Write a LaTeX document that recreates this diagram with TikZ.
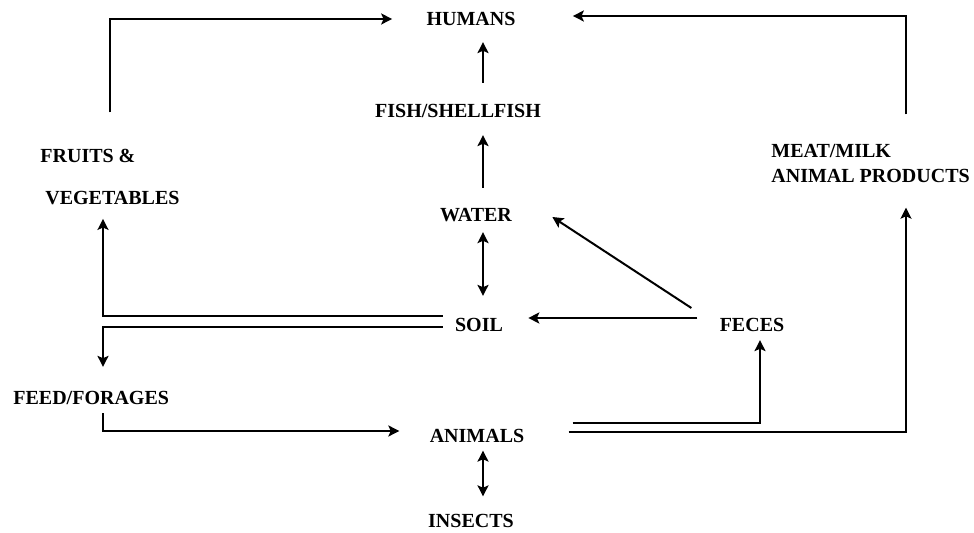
\documentclass[tikz,border=0pt]{standalone}
\usepackage{fontspec}
\setmainfont{Liberation Serif}
\usepackage{tikz}
\usetikzlibrary{arrows.meta,calc}

\begin{document}
\begin{tikzpicture}[x=0.5pt,y=-0.5pt,
  lbl/.style={inner sep=0pt,font=\bfseries},
  arrow/.style={-{Stealth[length=5.5pt,width=5.5pt,inset=1.2pt]}, line width=1pt},
  twoway/.style={{Stealth[length=5.5pt,width=5.5pt,inset=1.2pt]}-{Stealth[length=5.5pt,width=5.5pt,inset=1.2pt]}, line width=1pt}]
  \useasboundingbox (0,0) rectangle (974,533);
  % columns for the vertical runs
  \coordinate (mx) at (483,0);
  \coordinate (lx) at (103,0);
  \coordinate (rx) at (906,0);
  \coordinate (fx) at (760,0);
  \node[lbl] (humans) at (471,19) {HUMANS};
  \node[lbl] (fish) at (458,111) {FISH/SHELLFISH};
  \node[lbl] (water) at (476,215) {WATER};
  \node[lbl] (soil) at (479,325) {SOIL};
  \node[lbl] (feces) at (752,325) {FECES};
  \node[lbl] (animals) at (477,436) {ANIMALS};
  \node[lbl] (insects) at (471,521) {INSECTS};
  \node[lbl, anchor=west] (feed) at (13,398) {FEED/FORAGES};
  \node[lbl, anchor=north west, align=left, font=\fontsize{10}{21}\selectfont\bfseries] (fruits) at (40,148.5) {FRUITS \&\\\hspace*{2.5pt}VEGETABLES};
  \node[lbl, anchor=north west, align=left, font=\fontsize{10}{12.5}\selectfont\bfseries] (meat) at (771,143.5) {MEAT/MILK\\ANIMAL PRODUCTS};
  % to humans
  \draw[arrow] ([yshift=18pt]fruits.north) |- ([xshift=-17pt]humans.west);
  \draw[arrow] (meat.north -| rx) ++(0,-29) |- ([xshift=28.5pt,yshift=1.5pt]humans.east);
  \draw[arrow, shorten <=10.5pt, shorten >=8pt] (fish.north -| mx) -- (humans.south -| mx);
  \draw[arrow, shorten <=10pt, shorten >=8.5pt] (water.north -| mx) -- (fish.south -| mx);
  \draw[twoway, shorten <=5pt, shorten >=11pt] (water.south -| mx) -- (soil.north -| mx);
  % soil
  \draw[arrow] ([xshift=-6pt,yshift=4.5pt]soil.west) -| ([yshift=-7pt]fruits.south -| lx);
  \draw[arrow] ([xshift=-6pt,yshift=-1pt]soil.west) -| ([yshift=12pt]feed.north -| lx);
  \draw[arrow] ([yshift=-4pt]feed.south -| lx) |- ([xshift=-15pt,yshift=2.5pt]animals.west);
  \draw[twoway, shorten <=3.75pt, shorten >=8.75pt] (animals.south -| mx) -- (insects.north -| mx);
  % feces
  \draw[arrow] ([xshift=-11pt,yshift=3.5pt]feces.west) -- ([xshift=12.5pt,yshift=3.5pt]soil.east);
  \draw[arrow] ([xshift=-14pt,yshift=8.5pt]feces.west) -- ([xshift=20pt,yshift=-1pt]water.east);
  \draw[arrow] ([xshift=24pt,yshift=6.5pt]animals.east) -| ([yshift=-4pt]feces.south -| fx);
  \draw[arrow] ([xshift=22pt,yshift=2pt]animals.east) -| ([yshift=-12.5pt]meat.south -| rx);
\end{tikzpicture}
\end{document}
